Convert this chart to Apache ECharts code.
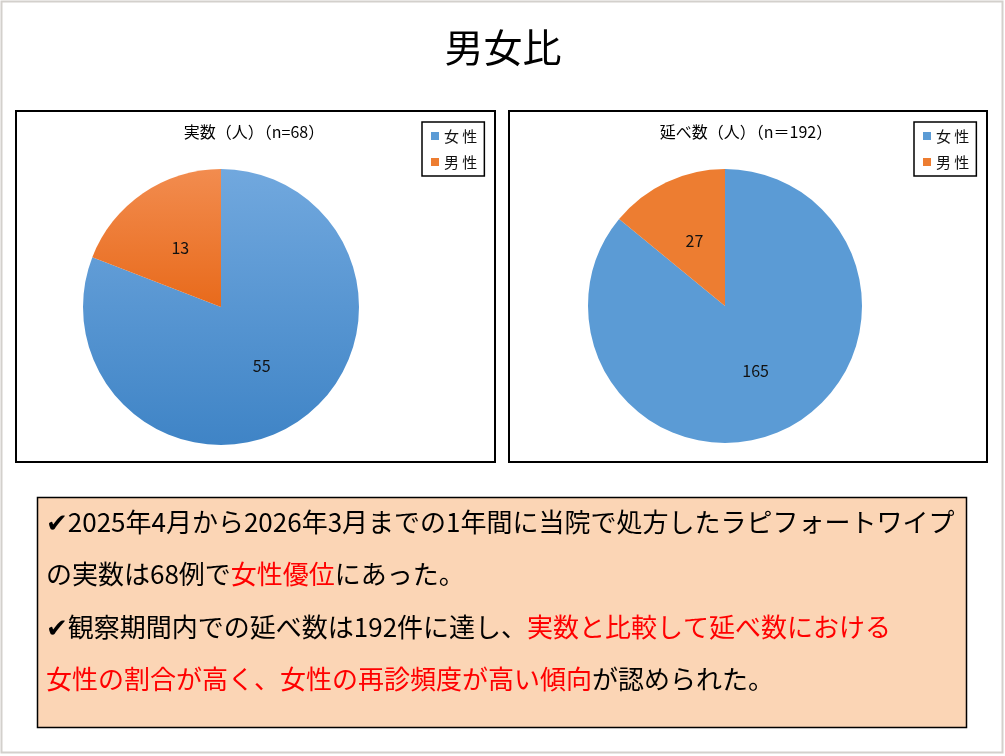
<!DOCTYPE html>
<html>
<head>
<meta charset="utf-8">
<title>男女比</title>
<script src="https://cdn.jsdelivr.net/npm/echarts@6/dist/echarts.min.js"></script>
<style>
  html, body { margin: 0; padding: 0; background: #fff; }
  #main { width: 1005px; height: 756px; }
</style>
</head>
<body>
<div id="main"></div>
<script>
'use strict';
// データ
var categories = ['女性', '男性'];
var actualCounts = [55, 13];     // 実数
var visitCounts = [165, 27];     // 延べ数
var pieTitles = ['実数（人）（n=68）', '延べ数（人）（n＝192）'];
var mainTitle = '男女比';

// 説明文（k: 黒, r: 赤）
var noteLines = [
  [['✔2025年4月から2026年3月までの1年間に当院で処方したラピフォートワイプ', 'k']],
  [['の実数は68例で', 'k'], ['女性優位', 'r'], ['にあった。', 'k']],
  [['✔観察期間内での延べ数は192件に達し、', 'k'], ['実数と比較して延べ数における', 'r']],
  [['女性の割合が高く、女性の再診頻度が高い傾向', 'r'], ['が認められた。', 'k']]
];

var FONT = '"Noto Sans CJK JP", "DejaVu Sans", sans-serif';
var flatColors = ['#5b9bd5', '#ed7d31'];

// 左の円は上から下へのグラデーション
var leftC = [221, 307], leftR = 138;
var rightC = [725, 306], rightR = 137;
function vGrad(top, bottom, stops) {
  return {
    type: 'linear', global: true, x: 0, y: top, x2: 0, y2: bottom,
    colorStops: stops
  };
}
var leftColors = [
  vGrad(leftC[1] - leftR, leftC[1] + leftR, [{ offset: 0, color: '#71a8de' }, { offset: 1, color: '#3f84c6' }]),
  vGrad(leftC[1] - leftR, leftC[1] + leftR, [{ offset: 0, color: '#f28c4f' }, { offset: 0.5, color: '#e86a1b' }, { offset: 1, color: '#e86a1b' }])
];

function pieData(values, colors) {
  return categories.map(function (name, i) {
    return { name: name, value: values[i], itemStyle: { color: colors[i] } };
  });
}

function pieSeries(name, center, radius, values, colors) {
  return {
    type: 'pie',
    name: name,
    center: center,
    radius: radius,
    startAngle: 90,
    clockwise: true,
    silent: true,
    label: {
      show: true, position: 'inside', formatter: '{c}',
      color: '#111', fontSize: 16, fontFamily: FONT
    },
    labelLine: { show: false },
    itemStyle: { borderWidth: 0 },
    data: pieData(values, colors)
  };
}

function legendAt(left) {
  return {
    left: left, top: 122,
    orient: 'vertical',
    selectedMode: false,
    icon: 'rect',
    itemWidth: 8, itemHeight: 8,
    itemGap: 8,
    padding: [5, 7, 5, 9],
    borderColor: '#000', borderWidth: 1.5,
    textStyle: { fontSize: 15, lineHeight: 18, color: '#111', fontFamily: FONT },
    formatter: function (n) { return n.split('').join(' '); },
    data: categories.map(function (name, i) {
      return { name: name, itemStyle: { color: flatColors[i] } };
    })
  };
}

// 説明文を graphic の rich テキストにする
var noteGraphics = noteLines.map(function (segs, i) {
  return {
    type: 'text',
    left: 46, top: 509 + i * 52.5,
    silent: true,
    style: {
      text: segs.map(function (s) { return '{' + s[1] + '|' + s[0] + '}'; }).join(''),
      rich: {
        k: { fill: '#000', fontSize: 26, fontFamily: FONT },
        r: { fill: '#ff0000', fontSize: 26, fontFamily: FONT }
      }
    }
  };
});

var chart = echarts.init(document.getElementById('main'), null, { renderer: 'canvas' });

chart.setOption({
  animation: false,
  backgroundColor: '#fff',
  title: [
    {
      text: mainTitle, left: 503, top: 28, textAlign: 'center', padding: 0,
      textStyle: { fontSize: 39, fontWeight: 'normal', color: '#000', fontFamily: FONT }
    },
    {
      text: pieTitles[0], left: 254, top: 124, textAlign: 'center', padding: 0,
      textStyle: { fontSize: 16, fontWeight: 'normal', color: '#000', fontFamily: FONT }
    },
    {
      text: pieTitles[1], left: 746, top: 124, textAlign: 'center', padding: 0,
      textStyle: { fontSize: 16, fontWeight: 'normal', color: '#000', fontFamily: FONT }
    }
  ],
  legend: [legendAt(422), legendAt(914)],
  series: [
    pieSeries('実数', leftC, leftR, actualCounts, leftColors),
    pieSeries('延べ数', rightC, rightR, visitCounts, flatColors)
  ],
  graphic: [
    // スライドの枠
    {
      type: 'rect', silent: true, z: -10,
      shape: { x: 1.5, y: 1.5, width: 1001, height: 751 },
      style: { fill: null, stroke: '#d3d0cc', lineWidth: 2 }
    },
    // グラフの枠
    {
      type: 'rect', silent: true, z: -5,
      shape: { x: 16, y: 111, width: 479, height: 351 },
      style: { fill: null, stroke: '#000', lineWidth: 2 }
    },
    {
      type: 'rect', silent: true, z: -5,
      shape: { x: 509, y: 111, width: 478, height: 351 },
      style: { fill: null, stroke: '#000', lineWidth: 2 }
    },
    // 説明文の枠
    {
      type: 'rect', silent: true, z: -5,
      shape: { x: 37.5, y: 497.5, width: 929, height: 230 },
      style: { fill: '#fbd5b5', stroke: '#000', lineWidth: 1.5 }
    }
  ].concat(noteGraphics)
});
</script>
</body>
</html>
